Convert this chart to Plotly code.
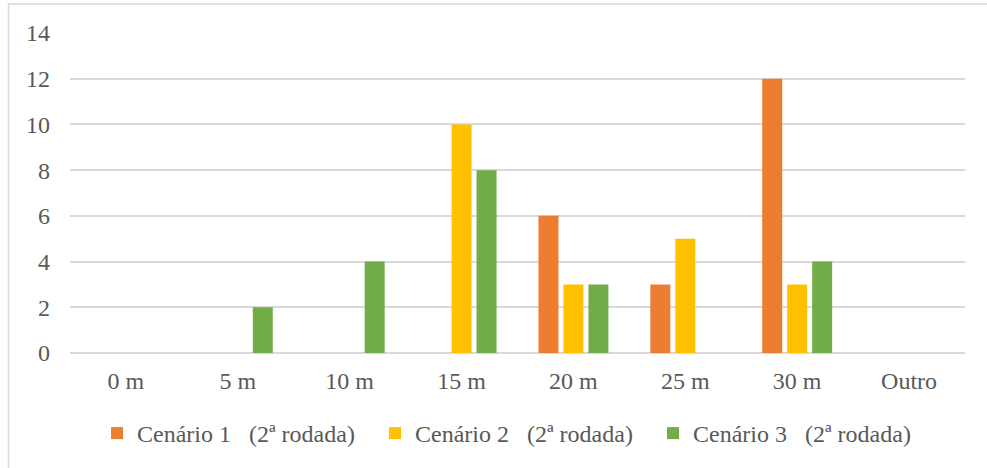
import plotly.graph_objects as go

categories = ["0 m", "5 m", "10 m", "15 m", "20 m", "25 m", "30 m", "Outro"]
cenario1 = [0, 0, 0, 0, 6, 3, 12, 0]
cenario2 = [0, 0, 0, 10, 3, 5, 3, 0]
cenario3 = [0, 2, 4, 8, 3, 0, 4, 0]
series_names = [
    "Cenário 1\u00a0\u00a0\u00a0(2ª rodada)",
    "Cenário 2\u00a0\u00a0\u00a0(2ª rodada)",
    "Cenário 3\u00a0\u00a0\u00a0(2ª rodada)",
]
colors = ["#ED7D31", "#FFC000", "#70AD47"]
y_ticks = [0, 2, 4, 6, 8, 10, 12, 14]

FONT = "Liberation Serif"
TXT = "#595959"
FS = 24

fig = go.Figure()
for name, vals, col in zip(series_names, [cenario1, cenario2, cenario3], colors):
    fig.add_trace(go.Bar(x=categories, y=vals, name=name,
                         marker=dict(color=col, line=dict(width=0))))

fig.update_layout(
    width=987, height=468,
    margin=dict(l=70, r=22, t=33, b=113),
    paper_bgcolor="white", plot_bgcolor="white",
    barmode="group", bargap=0.33, bargroupgap=0.2,
    font=dict(family=FONT, size=FS, color=TXT),
    showlegend=True,
    legend=dict(orientation="h", x=0.0302, xanchor="left", y=-0.2516, yanchor="middle",
                font=dict(family=FONT, size=FS, color=TXT),
                entrywidth=233, entrywidthmode="pixels", traceorder="normal",
                bgcolor="rgba(0,0,0,0)"),
    xaxis=dict(showgrid=False, showline=False, ticks="", ticklabelstandoff=11,
               tickfont=dict(family=FONT, size=FS, color=TXT), fixedrange=True),
    yaxis=dict(range=[0, 14], tickvals=y_ticks, showgrid=True, gridcolor="#D9D9D9",
               gridwidth=1.5, zeroline=True, zerolinecolor="#D9D9D9", zerolinewidth=1.5,
               showline=False, ticks="", ticklabelstandoff=19,
               tickfont=dict(family=FONT, size=FS, color=TXT)),
    shapes=[dict(type="rect", xref="paper", yref="paper",
                 xanchor=0, xsizemode="pixel", yanchor=1, ysizemode="pixel",
                 x0=-61.5, x1=1000, y0=29, y1=-500,
                 line=dict(color="#D9D9D9", width=1.5), fillcolor="rgba(0,0,0,0)",
                 layer="below")],
)

fig.write_html("out.html", config={"displayModeBar": False},
               post_script="document.body.style.margin='0';")
